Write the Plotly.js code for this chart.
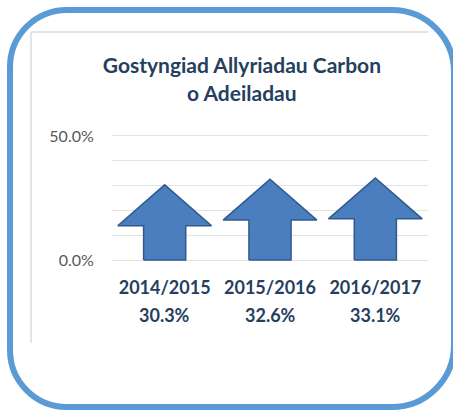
<!DOCTYPE html>
<html>
<head>
<meta charset="utf-8">
<script src="https://cdn.plot.ly/plotly-3.0.1.min.js"></script>
<style>
  html, body { margin: 0; padding: 0; background: #ffffff; }
  #wrap { position: relative; width: 453px; height: 410px; overflow: hidden; }
  #chart { position: absolute; left: 0; top: 0; width: 453px; height: 410px; }
  #frame {
    position: absolute; left: 7px; top: 7px; width: 450px; height: 403px;
    box-sizing: border-box; border: 6px solid #5b9bd5;
    border-radius: 60px 65px 65px 60px; pointer-events: none;
  }
</style>
</head>
<body>
<div id="wrap">
  <div id="chart"></div>
  <div id="frame"></div>
</div>
<script>
// ---- data ----
var titleLine1 = "Gostyngiad Allyriadau Carbon";
var titleLine2 = "o Adeiladau";
var categories = ["2014/2015", "2015/2016", "2016/2017"];
var values = [30.3, 32.6, 33.1];
var valueLabels = ["30.3%", "32.6%", "33.1%"];
var yTickVals = [0, 10, 20, 30, 40, 50];
var yTickText = ["0.0%", "", "", "", "", "50.0%"];

// ---- arrow shape style (in axis units) ----
var shaftHalf = 0.2;
var headHalf = 0.445;
var headHeight = 16.5;

var traces = [];
values.forEach(function (v, i) {
  var b = v - headHeight;
  traces.push({
    type: "scatter",
    mode: "lines",
    x: [i - shaftHalf, i - shaftHalf, i - headHalf, i, i + headHalf, i + shaftHalf, i + shaftHalf, i - shaftHalf],
    y: [0, b, b, v, b, b, 0, 0],
    fill: "toself",
    fillcolor: "#4a7ebf",
    line: { color: "#2f5a8f", width: 1.5 },
    hoverinfo: "skip",
    showlegend: false,
    cliponaxis: false
  });
});

var font = "Lato, 'Open Sans', sans-serif";
var navy = "#263f60";

var annotations = values.map(function (v, i) {
  return {
    x: i, xref: "x", y: -0.3731, yref: "paper",
    text: "<b>" + valueLabels[i] + "</b>",
    showarrow: false, xanchor: "center", yanchor: "middle",
    font: { family: font, size: 18, color: navy }
  };
});
annotations.push({
  x: 0.411, xref: "paper", y: 1.2836, yref: "paper",
  text: "<b>" + titleLine2 + "</b>",
  showarrow: false, xanchor: "center", yanchor: "middle",
  font: { family: font, size: 21, color: navy }
});

var layout = {
  width: 453, height: 410,
  margin: { l: 112, r: 25, t: 131, b: 145, pad: 0 },
  paper_bgcolor: "#ffffff",
  plot_bgcolor: "#ffffff",
  title: {
    text: "<b>" + titleLine1 + "</b>",
    x: 0.534, xanchor: "center",
    y: 0.841, yanchor: "middle",
    font: { family: font, size: 21, color: navy }
  },
  xaxis: {
    type: "linear",
    range: [-0.5, 2.5],
    tickvals: [0, 1, 2],
    ticktext: categories.map(function (c) { return "<b>" + c + "</b>"; }),
    showgrid: false, zeroline: false, showline: false,
    ticks: "outside", ticklen: 6, tickcolor: "rgba(0,0,0,0)",
    tickfont: { family: font, size: 18, color: navy },
    fixedrange: true
  },
  yaxis: {
    range: [-2, 52],
    tickvals: yTickVals,
    ticktext: yTickText,
    showgrid: true, gridcolor: "#e2e2e2", gridwidth: 1,
    zeroline: false, showline: false,
    ticks: "outside", ticklen: 14, tickcolor: "rgba(0,0,0,0)",
    tickfont: { family: font, size: 16, color: "#595959" },
    fixedrange: true
  },
  shapes: [
    { type: "line", xref: "paper", yref: "paper", x0: -0.2563, x1: -0.2563, y0: -0.582, y1: 1.7388,
      line: { color: "#dcdcdc", width: 1.5 } },
    { type: "line", xref: "paper", yref: "paper", x0: -0.2563, x1: 1.0, y0: 1.7388, y1: 1.7388,
      line: { color: "#dcdcdc", width: 1.5 } }
  ],
  annotations: annotations
};

Plotly.newPlot("chart", traces, layout, { displayModeBar: false, staticPlot: true });
</script>
</body>
</html>
